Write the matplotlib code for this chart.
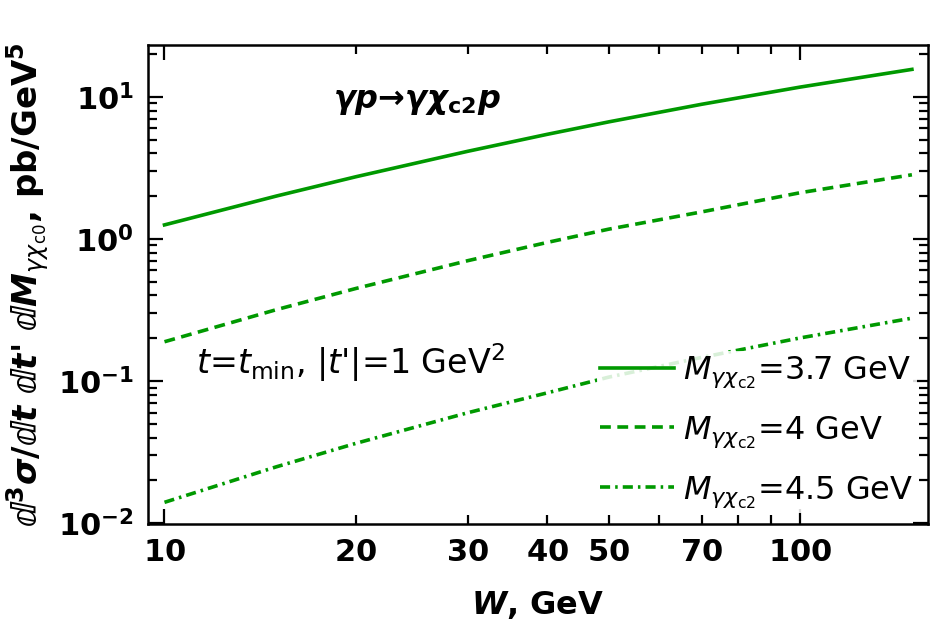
import numpy as np
from matplotlib import pyplot as plt
from matplotlib.ticker import LogLocator, FuncFormatter, NullFormatter

# W, GeV
w_values = [10, 15, 20, 30, 40, 50, 70, 100, 150]
# d3sigma, pb/GeV^5
sigma_m37 = [1.256, 2.005, 2.74, 4.14, 5.45, 6.67, 8.87, 11.72, 15.62]
sigma_m40 = [0.189, 0.318, 0.448, 0.703, 0.945, 1.172, 1.55, 2.115, 2.83]
sigma_m45 = [0.0140, 0.0249, 0.0364, 0.0598, 0.0825, 0.1065, 0.1466, 0.201, 0.277]

labels = [r'$M_{\gamma\chi_{\rm c2}}$=3.7 GeV',
          r'$M_{\gamma\chi_{\rm c2}}$=4 GeV',
          r'$M_{\gamma\chi_{\rm c2}}$=4.5 GeV']
x_tick_labels = [10, 20, 30, 40, 50, 70, 100]

plt.rcParams['font.family'] = ['DejaVu Sans']
plt.rcParams['mathtext.fontset'] = 'dejavusans'

fig = plt.figure(figsize=(9.32, 6.29), dpi=100)
ax = fig.add_axes([0.1588, 0.1669, 0.9957 - 0.1588, 0.9285 - 0.1669])

green = '#009900'
ax.plot(w_values, sigma_m37, color=green, lw=2.6, label=labels[0])
ax.plot(w_values, sigma_m40, color=green, lw=2.6, dashes=(3.0, 1.8), label=labels[1])
ax.plot(w_values, sigma_m45, color=green, lw=2.6, dashes=(2.8, 1.4, 0.7, 1.4), label=labels[2])

ax.set_xscale('log')
ax.set_yscale('log')
ax.set_xlim(9.42, 159)
ax.set_ylim(0.00985, 23.2)

# ticks
ax.tick_params(which='both', direction='in', top=True, right=True, width=1.6)
ax.tick_params(which='major', length=11)
ax.tick_params(which='minor', length=6.5)
for s in ax.spines.values():
    s.set_linewidth(1.8)

ax.xaxis.set_major_locator(LogLocator(base=10, numticks=10))
ax.xaxis.set_minor_locator(LogLocator(base=10, subs=np.arange(2, 10), numticks=20))


def x_fmt(v, pos):
    for t in x_tick_labels:
        if abs(v - t) < 1e-6 * t:
            return r'$\mathbf{%d}$' % t
    return ''


ax.xaxis.set_major_formatter(FuncFormatter(x_fmt))
ax.xaxis.set_minor_formatter(FuncFormatter(x_fmt))
ax.yaxis.set_major_locator(LogLocator(base=10, numticks=10))
ax.yaxis.set_minor_locator(LogLocator(base=10, subs=np.arange(2, 10), numticks=20))
ax.yaxis.set_major_formatter(FuncFormatter(lambda v, p: r'$\mathbf{10^{%d}}$' % round(np.log10(v))))
ax.yaxis.set_minor_formatter(NullFormatter())
ax.tick_params(which='both', labelsize=22, pad=10)

ax.set_xlabel(r'$\mathbfit{W}$, GeV', fontsize=23, fontweight='bold', labelpad=16)
ax.set_ylabel(r'$\mathbfit{ⅆ}^{\mathbf{3}}\mathbfit{\sigma}$/$\mathbfit{ⅆt}$ $\mathbfit{ⅆt}$' + "'" +
              r' $\mathbfit{ⅆM}_{\gamma\chi_{\rm c0}}$, pb/GeV$^{\mathbf{5}}$',
              fontsize=24.5, fontweight='bold', labelpad=5)

# process label
ax.text(0.345, 0.883, r'$\mathbfit{\gamma p}$→$\mathbfit{\gamma\chi}_{\mathbf{c2}}\mathbfit{p}$',
        transform=ax.transAxes, fontsize=23, fontweight='bold', ha='center', va='center')
ax.text(0.062, 0.336, r'$t$=$t_{\rm min}$, |$t$' + "'|=1 GeV$^2$",
        transform=ax.transAxes, fontsize=24, ha='left', va='center')

leg = ax.legend(loc='lower right', fontsize=23, frameon=True, framealpha=0.85,
                edgecolor='none', handlelength=2.3, handletextpad=0.3,
                labelspacing=0.76, borderaxespad=0.35, borderpad=0.1)

plt.savefig('out.png', dpi=100)
